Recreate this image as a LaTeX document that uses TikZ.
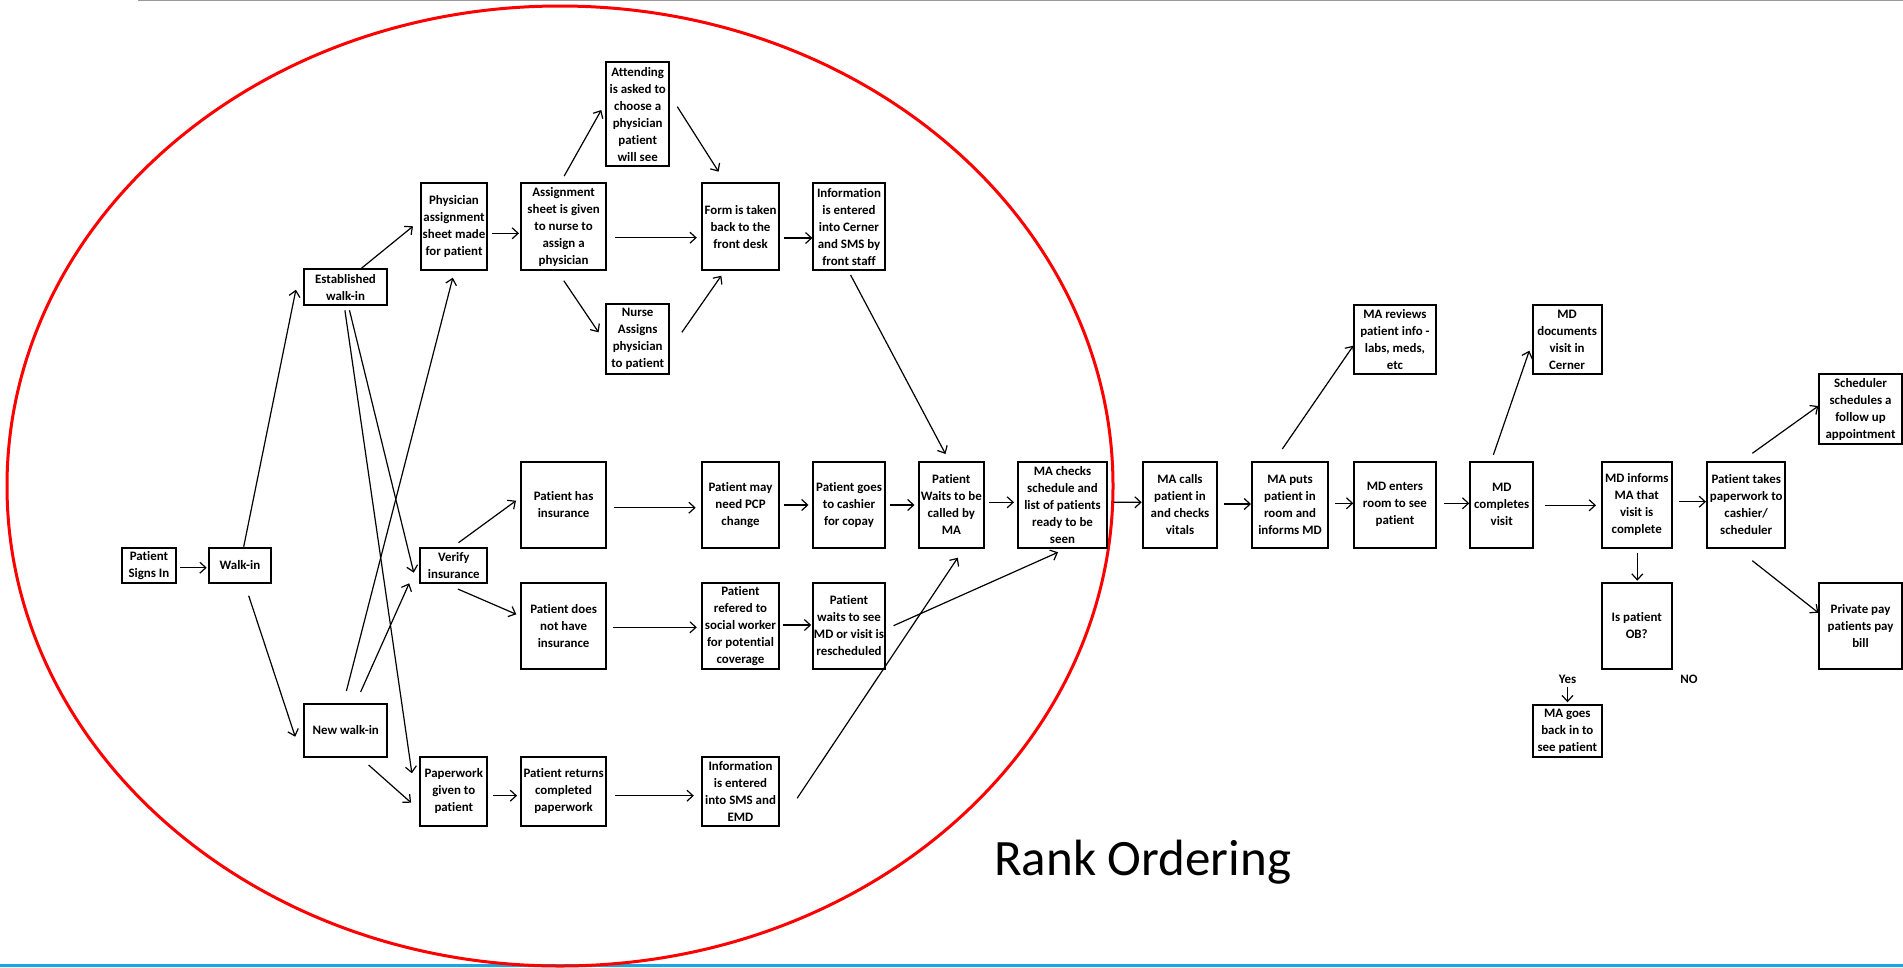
\documentclass[tikz,border=0pt]{standalone}
\usepackage{fontspec}
\setmainfont{Carlito}[Ligatures=NoCommon]
\usetikzlibrary{arrows.meta,calc}
\definecolor{ringred}{RGB}{255,0,0}
\definecolor{barblue}{RGB}{23,168,225}
\definecolor{rulegray}{RGB}{155,155,155}
\tikzset{
  box/.style={draw=black, line width=2pt, fill=white, inner sep=0pt, align=center,
    font=\bfseries\fontsize{12.9}{17}\selectfont},
  bx/.style 2 args={box, minimum width=#1pt, minimum height=#2pt},
  arr/.style={line width=1.2pt, -{Straight Barb[length=6pt,width=11pt,line width=1.2pt]}},
  lbl/.style={inner sep=0pt, font=\bfseries\fontsize{12.9}{17}\selectfont},
}
\begin{document}
\begin{tikzpicture}[x=1pt,y=-1pt]
\useasboundingbox (0,0) rectangle (1903,967);
\draw[rulegray, line width=1.2pt] (138,0.6) -- (1903,0.6);
\draw[barblue, line width=3pt] (0,965.5) -- (1903,965.5);
\draw[ringred, line width=3pt] (560,486) ellipse [x radius=553pt, y radius=480pt];

% nodes
\node[bx={54.3}{35.3}] (signs) at (148.9,565.4) {Patient\\Signs In};
\node[bx={62.6}{35.3}] (walkin) at (240,565.4) {Walk-in};
\node[bx={83}{35.7}] (est) at (345.5,287.2) {Established\\walk-in};
\node[bx={83.4}{53.3}] (newwalk) at (345.7,730.4) {New walk-in};
\node[bx={66.5}{86.7}] (phys) at (454,226.7) {Physician\\assignment\\sheet made\\for patient};
\node[bx={67}{35.3}] (verify) at (453.8,565.4) {Verify\\insurance};
\node[bx={67}{69.3}] (paperwork) at (453.8,791.4) {Paperwork\\given to\\patient};
\node[bx={85.4}{86.7}] (assign) at (563.6,226.7) {Assignment\\sheet is given\\to nurse to\\assign a\\physician};
\node[bx={85.4}{86.3}] (has) at (563.6,504.9) {Patient has\\insurance};
\node[bx={85.4}{86.6}] (nothave) at (563.6,626) {Patient does\\not have\\insurance};
\node[bx={85.4}{69.3}] (returns) at (563.6,791.4) {Patient returns\\completed\\paperwork};
\node[bx={63.5}{103.7}] (attending) at (637.7,114.2) {Attending\\is asked to\\choose a\\physician\\patient\\will see};
\node[bx={63.4}{70}] (nurse) at (637.7,339.3) {Nurse\\Assigns\\physician\\to patient};
\node[bx={77.3}{86.7}] (form) at (740.5,226.7) {Form is taken\\back to the\\front desk};
\node[bx={77.3}{86.3}] (pcp) at (740.5,504.9) {Patient may\\need PCP\\change};
\node[bx={77.3}{86.6}] (referred) at (740.5,626) {Patient\\refered to\\social worker\\for potential\\coverage};
\node[bx={77.3}{69.3}] (infosms) at (740.5,791.4) {Information\\is entered\\into SMS and\\EMD};
\node[bx={72.3}{86.7}] (infocerner) at (849,226.7) {Information\\is entered\\into Cerner\\and SMS by\\front staff};
\node[bx={72.3}{86.3}] (cashier) at (849,504.9) {Patient goes\\to cashier\\for copay};
\node[bx={72.3}{86.6}] (waitsmd) at (849,626) {Patient\\waits to see\\MD or visit is\\rescheduled};
\node[bx={65}{86.3}] (waits) at (951.3,504.9) {Patient\\Waits to be\\called by\\MA};
\node[bx={89.1}{86.3}] (checks) at (1062.5,504.9) {MA checks\\schedule and\\list of patients\\ready to be\\seen};
\node[bx={74.6}{86}] (calls) at (1180,504.7) {MA calls\\patient in\\and checks\\vitals};
\node[bx={76.6}{86}] (puts) at (1290,504.7) {MA puts\\patient in\\room and\\informs MD};
\node[bx={82.3}{86}] (enters) at (1394.9,504.7) {MD enters\\room to see\\patient};
\node[bx={82.3}{69.6}] (reviews) at (1394.9,339.5) {MA reviews\\patient info -\\labs, meds,\\etc};
\node[bx={63.3}{86}] (completes) at (1501.7,504.7) {MD\\completes\\visit};
\node[bx={69.2}{69.6}] (docs) at (1567.1,339.5) {MD\\documents\\visit in\\Cerner};
\node[bx={70}{86}] (informs) at (1636.7,504.7) {MD informs\\MA that\\visit is\\complete};
\node[bx={70}{86}] (ob) at (1636.7,626) {Is patient\\OB?};
\node[bx={69.3}{52.8}] (goes) at (1567.3,730.9) {MA goes\\back in to\\see patient};
\node[bx={78.3}{86}] (takes) at (1746.2,504.7) {Patient takes\\paperwork to\\cashier/\\scheduler};
\node[bx={83}{70}] (scheduler) at (1860.5,409) {Scheduler\\schedules a\\follow up\\appointment};
\node[bx={83}{86}] (private) at (1860.5,626) {Private pay\\patients pay\\bill};
\node[lbl] (yes) at (1567.5,679) {Yes};
\node[lbl] (no) at (1689,679) {NO};
\node[anchor=base west, inner sep=0pt, font=\fontsize{51}{60}\selectfont] (title) at (994,875) {Rank Ordering};

% connectors
\draw[arr] ($(signs)+(31.4,2.3)$) -- ($(walkin)+(-33.3,2.3)$);
\draw[arr] ($(walkin)+(3.7,-18.7)$) -- ($(est)+(-49.6,2.5)$);
\draw[arr] ($(walkin)+(8.7,30.3)$) -- ($(newwalk)+(-50.5,6.3)$);
\draw[arr] ($(est)+(15.9,-18.9)$) -- ($(phys)+(-41,-0.4)$);
\draw[arr] ($(est)+(4,23.1)$) -- ($(verify)+(-40,7.3)$);
\draw[arr] ($(est)+(-0.6,23.1)$) -- ($(paperwork)+(-41.9,-18.1)$);
\draw[arr] ($(newwalk)+(0.7,-39.4)$) -- ($(phys)+(-1.2,51)$);
\draw[arr] ($(newwalk)+(14.9,-38.4)$) -- ($(verify)+(-44.6,17.9)$);
\draw[arr] ($(newwalk)+(22.9,34.6)$) -- ($(paperwork)+(-42.7,11.3)$);
\draw[arr] ($(phys)+(38.2,6.6)$) -- ($(assign)+(-44.6,6.6)$);
\draw[arr] ($(verify)+(4.7,-22.7)$) -- ($(has)+(-47.6,-4.2)$);
\draw[arr] ($(verify)+(4,23.6)$) -- ($(nothave)+(-47.3,-11.7)$);
\draw[arr] ($(paperwork)+(39.6,4.3)$) -- ($(returns)+(-46.5,4.3)$);
\draw[arr] ($(assign)+(0.6,-50.7)$) -- ($(attending)+(-36.4,-4.2)$);
\draw[arr] ($(assign)+(51.8,11)$) -- ($(form)+(-43.7,11)$);
\draw[arr] ($(assign)+(0.2,54)$) -- ($(nurse)+(-39.1,-7)$);
\draw[arr] ($(attending)+(39.6,-7.5)$) -- ($(form)+(-21.9,-55)$);
\draw[arr] ($(nurse)+(44.2,-7)$) -- ($(form)+(-19.2,49)$);
\draw[arr] ($(form)+(43.2,11.3)$) -- ($(infocerner)+(-36.6,11.3)$);
\draw[arr] ($(infocerner)+(1.6,48.3)$) -- ($(waits)+(-5.8,-50.9)$);
\draw[arr] ($(has)+(49.9,2.8)$) -- ($(pcp)+(-44.8,2.8)$);
\draw[arr] ($(nothave)+(49.2,1.3)$) -- ($(referred)+(-43.7,1.3)$);
\draw[arr] ($(returns)+(51.8,4.3)$) -- ($(infosms)+(-46.7,4.3)$);
\draw[arr] ($(pcp)+(43.2,0.1)$) -- ($(cashier)+(-40.5,0.1)$);
\draw[arr] ($(cashier)+(40.7,0.1)$) -- ($(waits)+(-36.8,0.1)$);
\draw[arr] ($(waits)+(37.9,-2.6)$) -- ($(checks)+(-48.5,-2.6)$);
\draw[arr] ($(checks)+(50.9,-2.6)$) -- ($(calls)+(-38.3,-2.4)$);
\draw[arr] ($(referred)+(42,-1)$) -- ($(waitsmd)+(-37.8,-1)$);
\draw[arr] ($(waitsmd)+(44.5,-0.3)$) -- ($(checks)+(-4.5,47.4)$);
\draw[arr] ($(infosms)+(56.6,6.9)$) -- ($(waits)+(6.5,52.8)$);
\draw[arr] ($(calls)+(44,-0.7)$) -- ($(puts)+(-39,-0.7)$);
\draw[arr] ($(puts)+(45,-1.4)$) -- ($(enters)+(-41.6,-1.4)$);
\draw[arr] ($(enters)+(49.1,-1.4)$) -- ($(completes)+(-32.4,-1.4)$);
\draw[arr] ($(puts)+(-7.7,-55.7)$) -- ($(reviews)+(-41.6,6.2)$);
\draw[arr] ($(completes)+(-8.4,-49.7)$) -- ($(docs)+(-37.8,11.2)$);
\draw[arr] ($(completes)+(43.3,0.6)$) -- ($(informs)+(-40.7,0.6)$);
\draw[arr] ($(informs)+(42.6,-3)$) -- ($(takes)+(-40.2,-3)$);
\draw[arr] ($(informs)+(0.6,48.6)$) -- ($(ob)+(0.6,-45.3)$);
\draw[arr] ($(takes)+(6.1,-51.4)$) -- ($(scheduler)+(-42.2,-3)$);
\draw[arr] ($(takes)+(6.1,56)$) -- ($(private)+(-42.2,-13.3)$);
\draw[arr] ($(yes)+(0,7.7)$) -- ($(goes)+(0.2,-28.6)$);
\end{tikzpicture}
\end{document}
